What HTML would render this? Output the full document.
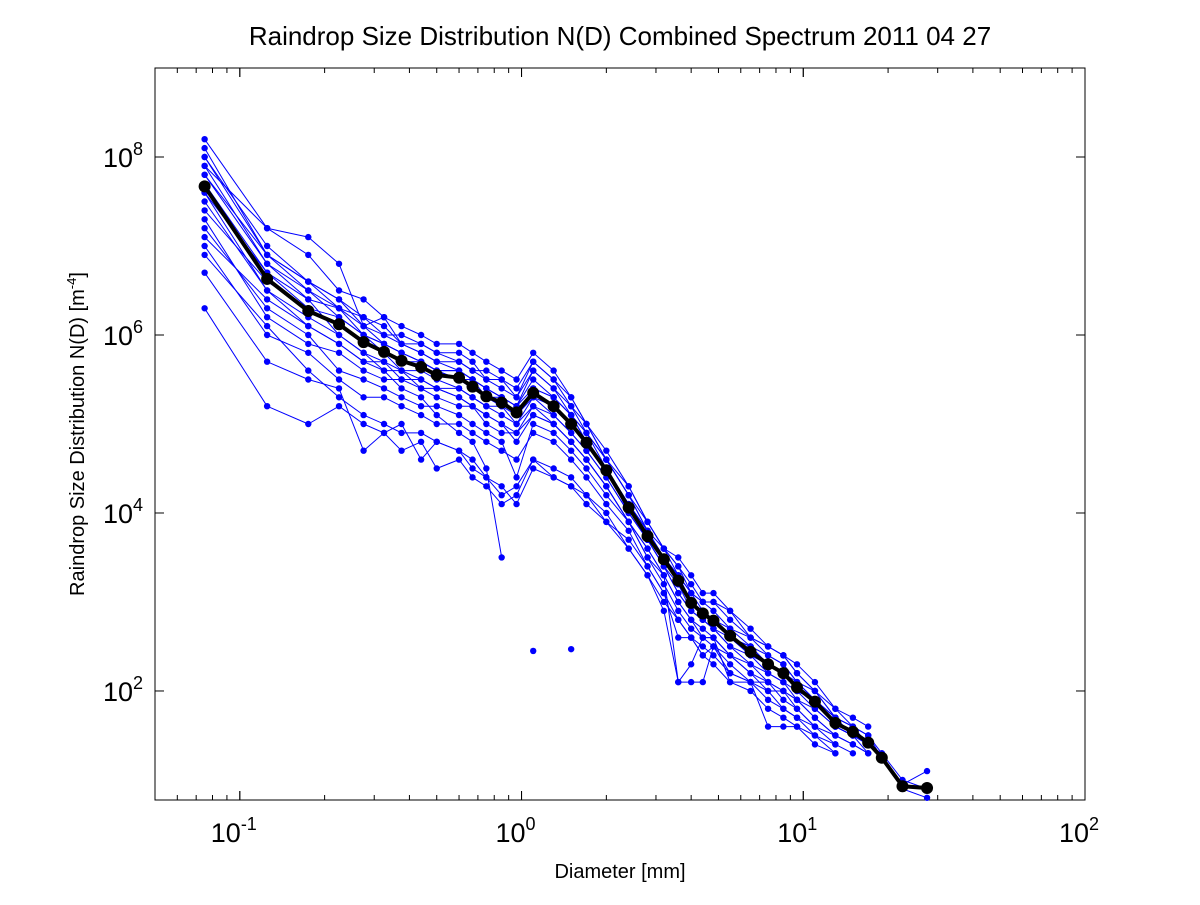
<!DOCTYPE html>
<html><head><meta charset="utf-8"><style>
body{margin:0;background:#fff;}
svg text{font-family:"Liberation Sans",sans-serif;}
</style></head><body>
<svg id="chart" width="1200" height="900" xmlns="http://www.w3.org/2000/svg">
<rect x="0" y="0" width="1200" height="900" fill="#fff"/>
<text x="620" y="45" font-size="26" text-anchor="middle">Raindrop Size Distribution N(D) Combined Spectrum 2011 04 27</text>
<text x="620" y="878" font-size="20" text-anchor="middle">Diameter [mm]</text>
<text transform="translate(84,434) rotate(-90)" font-size="20" text-anchor="middle">Raindrop Size Distribution N(D) [m<tspan dy="-8" font-size="13">-4</tspan><tspan dy="8">]</tspan></text>
<g id="plot"></g>
</svg>
<script>
const diameters=[0.075,0.125,0.175,0.225,0.275,0.325,0.375,0.44,0.5,0.6,0.67,0.75,0.85,0.96,1.1,1.3,1.5,1.7,2.0,2.4,2.8,3.2,3.6,4.0,4.4,4.8,5.5,6.5,7.5,8.5,9.5,11,13,15,17,19,22.5,27.5];
const meanLog=[7.67,6.63,6.27,6.12,5.92,5.81,5.71,5.64,5.55,5.52,5.42,5.31,5.24,5.13,5.35,5.20,5.00,4.79,4.48,4.06,3.74,3.48,3.24,2.99,2.87,2.79,2.62,2.44,2.30,2.20,2.04,1.88,1.64,1.54,1.42,1.25,0.93,0.91];
const s1=[8.2,7.2,6.9,6.5,6.4,6.2,6.1,6.0,5.9,5.9,5.8,5.7,5.6,5.5,5.8,5.6,5.3,5.0,4.6,4.2,3.9,3.6,3.4,3.2,3.0,3.0,2.9,2.7,2.5,2.4,2.2,2.0,1.8,1.6,1.5,1.25,null,null];
const s2=[8.0,7.0,6.6,6.4,6.1,6.0,5.9,5.8,5.7,5.7,5.6,5.5,5.4,5.3,5.6,5.4,5.2,4.9,4.6,4.2,3.8,3.5,3.3,3.1,2.9,2.8,2.7,2.5,2.4,2.3,2.1,1.9,1.7,1.5,1.4,1.3,1.0,0.9];
const s3=[7.8,6.8,6.4,6.3,6.0,5.9,5.8,5.7,5.6,5.6,5.5,5.4,5.3,5.2,5.5,5.3,5.1,4.9,4.5,4.1,3.7,3.5,3.2,3.0,2.9,2.8,2.6,2.4,2.3,2.2,2.0,1.9,1.6,1.5,1.4,1.25,0.95,1.1];
const s4=[7.5,6.5,6.2,6.0,5.8,5.7,5.6,5.5,5.4,5.4,5.3,5.2,5.1,5.0,5.2,5.1,4.9,4.7,4.4,4.0,3.7,3.4,3.2,2.9,2.8,2.7,2.5,2.3,2.2,2.1,1.9,1.8,1.6,1.5,1.3,null,null,null];
const s5=[7.3,6.2,5.9,5.8,5.6,5.5,5.5,5.4,5.3,5.2,5.2,5.0,4.9,4.9,5.1,5.0,4.8,4.6,4.3,3.9,3.6,3.3,3.0,2.8,2.6,2.6,2.4,2.2,2.1,1.9,1.8,1.6,1.4,1.3,null,null,null,null];
const s6=[7.0,6.0,5.8,5.5,5.3,5.3,5.2,5.1,5.0,5.0,4.9,4.8,4.7,4.6,4.9,4.8,4.6,4.4,4.1,3.8,3.4,3.1,2.6,2.6,2.4,2.3,2.1,2.0,1.8,1.7,1.6,1.5,1.4,null,null,null,null,null];
const s7=[6.3,5.2,5.0,5.2,5.0,4.9,4.7,4.8,4.5,4.6,4.4,4.3,4.1,4.2,4.6,4.5,4.4,4.2,4.0,3.6,3.3,2.9,2.1,2.1,2.1,2.5,2.2,2.1,1.6,1.6,1.6,1.4,1.3,null,null,null,null,null];
const s8=[7.9,7.2,7.1,6.8,6.1,6.2,5.9,5.9,5.8,5.8,5.7,5.5,5.5,5.3,5.7,5.5,5.2,5.0,4.6,4.3,3.9,3.6,3.5,3.3,3.1,3.1,2.9,2.6,2.5,2.4,2.3,2.1,1.8,1.7,1.6,null,null,null];
const s9=[6.7,5.7,5.5,5.4,4.7,4.9,5.0,4.6,4.8,4.7,4.6,4.4,4.2,4.3,4.6,4.4,4.3,4.1,3.9,3.6,3.3,3.0,2.8,2.6,2.4,2.5,2.3,2.1,2.0,1.8,1.7,1.5,1.3,null,null,null,null,null];
const s10=[7.6,6.5,6.1,5.9,5.7,5.6,5.4,5.3,5.1,4.9,4.8,4.5,3.5,null,null,null,null,null,null,null,null,null,null,null,null,null,null,null,null,null,null,null,null,null,null,null,null,null];
const s11=[8.1,6.9,6.6,6.3,6.2,6.1,5.9,5.8,5.7,5.6,5.5,5.3,5.3,5.1,5.4,5.3,5.1,4.8,4.5,4.1,3.8,3.5,3.3,3.0,2.9,2.8,2.6,2.5,2.3,2.2,2.0,1.9,1.6,1.5,1.4,1.25,0.9,0.8];
const s12=[7.2,6.3,6.0,5.6,5.5,5.4,5.3,5.2,5.2,5.1,5.0,4.9,4.8,4.4,5.0,4.9,4.7,4.5,4.2,3.9,3.5,3.2,2.9,2.7,2.6,2.5,2.4,2.2,2.0,2.0,1.8,1.6,1.5,1.4,1.3,null,null,null];
const s13=[7.7,6.7,6.3,6.2,6.0,5.8,5.7,5.7,5.6,5.5,5.4,5.3,5.2,5.1,5.3,5.2,5.0,4.8,4.5,4.1,3.8,3.5,3.2,3.0,2.9,2.8,2.6,2.5,2.3,2.2,2.0,1.9,1.7,1.6,1.4,1.25,null,null];
const s14=[7.4,6.6,6.3,6.1,5.9,5.8,5.6,5.6,5.5,5.4,5.3,5.2,5.2,5.0,5.3,5.1,4.9,4.7,4.4,4.0,3.7,3.4,3.1,2.9,2.8,2.7,2.5,2.4,2.2,2.1,2.0,1.8,1.6,1.5,1.4,null,null,null];
const s15=[7.1,6.4,6.1,5.9,5.7,5.7,5.5,5.5,5.4,5.3,5.2,5.1,5.0,4.8,5.1,5.0,4.8,4.6,4.3,3.9,3.6,3.3,3.0,2.8,2.7,2.6,2.4,2.3,2.1,2.0,1.9,1.7,1.5,1.4,1.3,null,null,null];
const s16=[8.0,6.9,6.5,6.3,6.1,5.9,5.8,5.7,5.6,5.6,5.5,5.4,5.3,5.2,5.6,5.4,5.1,4.9,4.6,4.2,3.8,3.6,3.3,3.1,3.0,2.9,2.7,2.6,2.4,2.3,2.1,2.0,1.7,1.6,1.5,1.3,null,null];
const s17=[7.6,6.7,6.4,6.0,5.8,5.6,5.6,5.4,5.4,5.3,5.2,5.1,5.0,4.9,5.2,5.0,4.8,4.6,4.3,3.9,3.5,3.3,2.1,2.3,2.6,2.6,2.1,2.1,2.1,2.0,1.9,1.7,1.5,null,null,null,null,null];
const s18=[7.9,6.8,6.5,6.2,6.0,5.9,5.8,5.7,5.6,5.5,5.5,5.4,5.3,5.2,5.4,5.3,5.1,4.8,4.5,4.0,3.7,3.4,3.1,2.9,2.8,2.7,2.6,2.4,2.3,2.2,2.1,1.9,1.7,1.5,1.4,null,null,null];
const s19=[6.9,6.1,5.6,5.3,5.1,5.0,4.9,4.9,4.8,4.7,4.5,4.4,4.3,4.1,4.5,4.4,4.3,4.2,3.9,3.7,3.4,3.1,2.8,2.6,2.5,2.4,2.2,2.1,1.9,1.8,1.7,1.6,null,null,null,null,null,null];
const s20=[7.8,6.9,6.6,6.4,6.2,6.0,6.0,5.9,5.8,5.7,5.6,5.6,5.5,5.4,5.7,5.5,5.3,5.0,4.7,4.3,3.9,3.6,3.4,3.1,3.0,3.0,2.8,2.6,2.5,2.4,2.2,2.0,1.7,1.6,1.5,null,null,null];
const isolatedD=[1.1,1.5];
const isolatedLog=[2.45,2.47];
const xTickExp=[-1,0,1,2];
const yTickExp=[2,4,6,8];

const L=155,R=1085,T=68,B=800;
const xMinLog=Math.log10(0.05),xMaxLog=2;
const yMinLog=0.775,yMaxLog=9;
function xs(d){return L+(Math.log10(d)-xMinLog)/(xMaxLog-xMinLog)*(R-L);}
function ys(lg){return B-(lg-yMinLog)/(yMaxLog-yMinLog)*(B-T);}
const NS="http://www.w3.org/2000/svg";
const plot=document.getElementById('plot');
function mk(tag,attrs,parent){const e=document.createElementNS(NS,tag);for(const k in attrs)e.setAttribute(k,attrs[k]);(parent||plot).appendChild(e);return e;}

const frame=mk('rect',{x:L,y:T,width:R-L,height:B-T,fill:'none',stroke:'#000','stroke-width':1});



for(let e=-2;e<=1;e++){for(let m=1;m<10;m++){const v=m*Math.pow(10,e);if(v<0.05-1e-9||v>100)continue;const x=xs(v);const len=m===1?9:5;
const t1=mk('line',{x1:x,x2:x,y1:B,y2:B-len,stroke:'#000'});
const t2=mk('line',{x1:x,x2:x,y1:T,y2:T+len,stroke:'#000'});}}
xTickExp.forEach(e=>{const x=xs(Math.pow(10,e));
const t1=mk('line',{x1:x,x2:x,y1:B,y2:B-9,stroke:'#000'});
const t2=mk('line',{x1:x,x2:x,y1:T,y2:T+9,stroke:'#000'});
const tx=mk('text',{x:x-6,y:B+42,'font-size':27,'text-anchor':'middle'});
tx.innerHTML='10<tspan dy="-12" font-size="18">'+e+'</tspan>';});
yTickExp.forEach(e=>{const y=ys(e);
const t1=mk('line',{x1:L,x2:L+9,y1:y,y2:y,stroke:'#000'});
const t2=mk('line',{x1:R,x2:R-9,y1:y,y2:y,stroke:'#000'});
const tx=mk('text',{x:L-12,y:y+10,'font-size':27,'text-anchor':'end'});
tx.innerHTML='10<tspan dy="-12" font-size="18">'+e+'</tspan>';});

function drawSeries(vals,color,w,r,name){
const g=mk('g',{});
let d='',pen=false;
vals.forEach((v,i)=>{if(v===null){pen=false;return;}const x=xs(diameters[i]).toFixed(1),y=ys(v).toFixed(1);d+=(pen?'L':'M')+x+' '+y+' ';pen=true;});
const p=mk('path',{d:d,fill:'none',stroke:color,'stroke-width':w,'stroke-linejoin':'round'},g);
vals.forEach((v,i)=>{if(v===null)return;const c=mk('circle',{cx:xs(diameters[i]),cy:ys(v),r:r,fill:color},g);

});}
const blue='#0000ff';
[s1,s2,s3,s4,s5,s6,s7,s8,s9,s10,s11,s12,s13,s14,s15,s16,s17,s18,s19,s20].forEach((s,i)=>drawSeries(s,blue,1,3.2,'spectrum-'+(i+1)));
isolatedD.forEach((d,i)=>{const c=mk('circle',{cx:xs(d),cy:ys(isolatedLog[i]),r:3.2,fill:blue});

});
drawSeries(meanLog,'#000',4,6,'combined-spectrum');
</script>
</body></html>
